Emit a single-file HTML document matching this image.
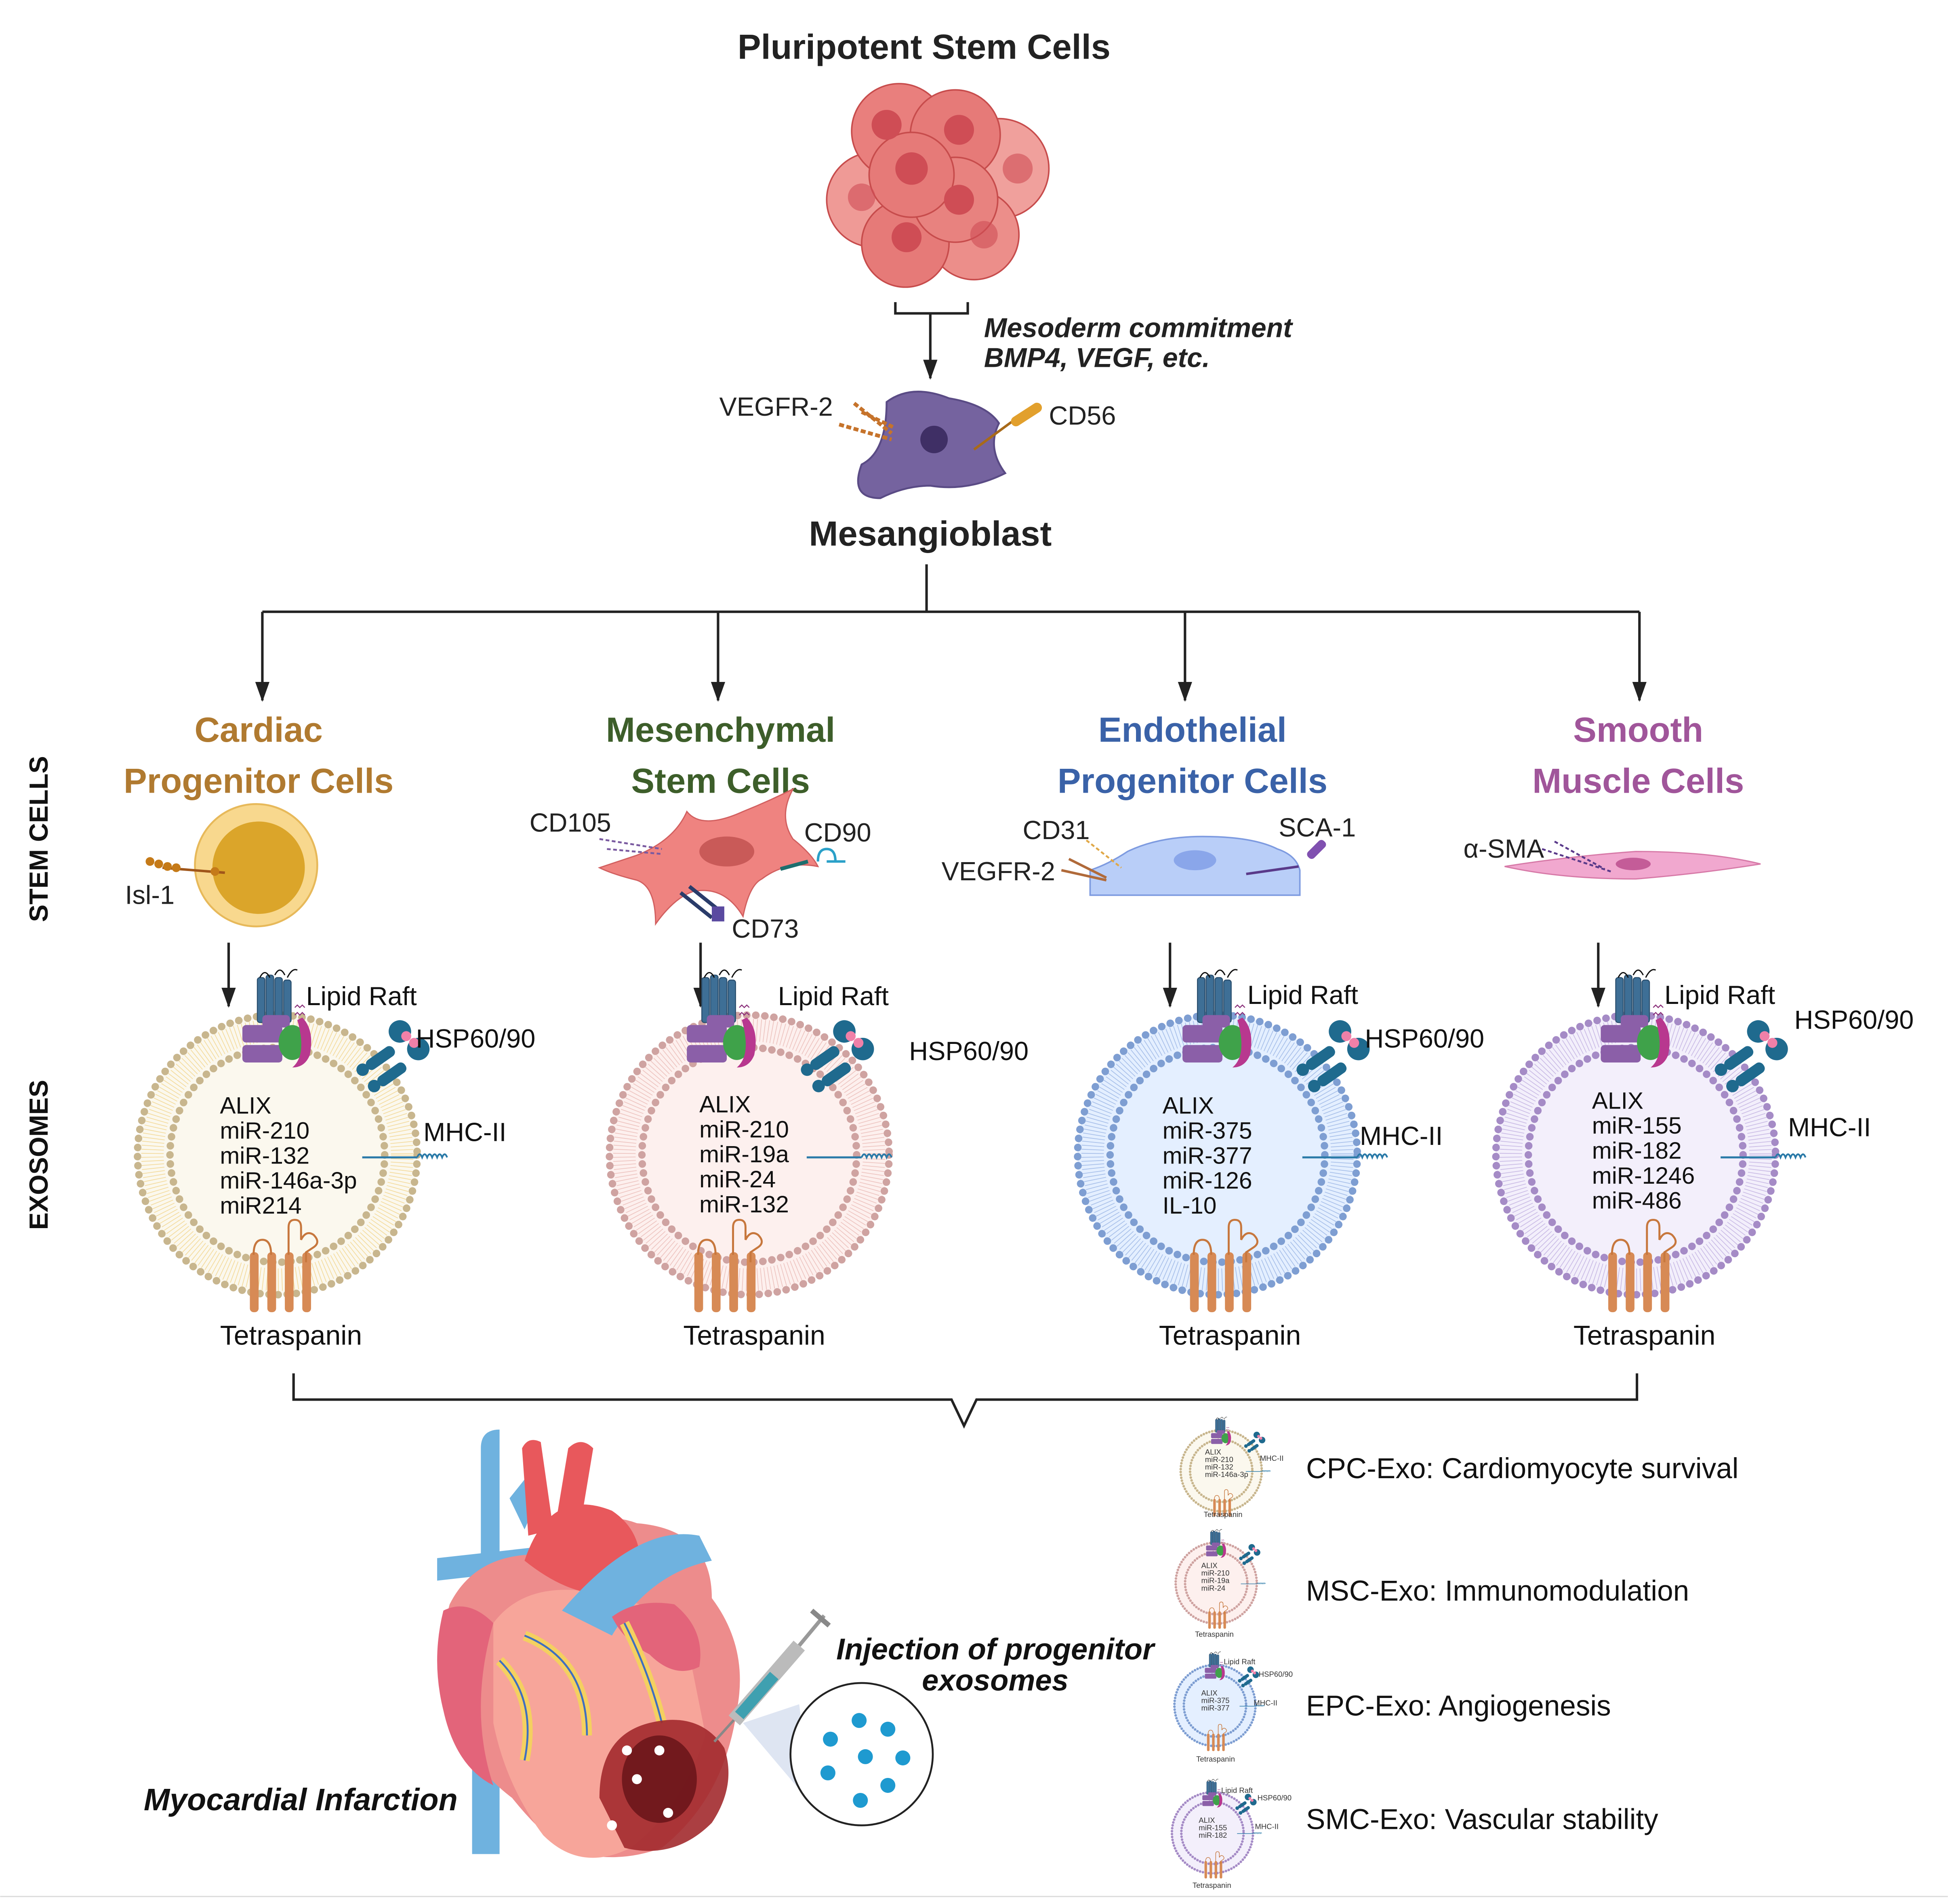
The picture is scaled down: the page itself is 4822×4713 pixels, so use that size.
<!DOCTYPE html>
<html><head><meta charset="utf-8"><style>
html,body{margin:0;padding:0;background:#fff;}
svg{display:block;}
text{font-family:"Liberation Sans",Arial,sans-serif;}
</style></head><body>
<svg width="4822" height="4713" viewBox="0 0 1560 1525" xmlns="http://www.w3.org/2000/svg">
<defs>
<marker id="ah" viewBox="0 0 14 10" refX="13" refY="5" markerWidth="16" markerHeight="12" orient="auto" markerUnits="userSpaceOnUse"><path d="M0,0 L14,5 L0,10 Z" fill="#222"/></marker>
<g id="prot">
  <g fill="#3e6f96" stroke="#2b4f6e" stroke-width="0.8">
    <rect x="-16" y="-142" width="6" height="36" rx="2"/>
    <rect x="-9" y="-144" width="6" height="40" rx="2"/>
    <rect x="-2" y="-142" width="6" height="38" rx="2"/>
    <rect x="5" y="-140" width="6" height="34" rx="2"/>
  </g>
  <path d="M-14,-142 q4,-8 8,0 M-2,-144 q4,-8 8,0 M8,-142 q4,-8 8,-6" stroke="#111" fill="none" stroke-width="1"/>
  <path d="M14,-118 l2,-2 l2,2 l2,-2 l2,2 M14,-112 l2,-2 l2,2 l2,-2 l2,2" stroke="#8a2f7a" fill="none" stroke-width="0.8"/>
  <rect x="-28" y="-104" width="32" height="14" rx="3" fill="#8b5fa8"/>
  <rect x="-28" y="-88" width="32" height="14" rx="3" fill="#8b5fa8"/>
  <rect x="-12" y="-112" width="22" height="10" rx="3" fill="#8b5fa8"/>
  <ellipse cx="12" cy="-90" rx="11" ry="14" fill="#3fa24a"/>
  <path d="M20,-110 q10,10 6,30 q-4,10 -14,10 q12,-10 4,-38 z" fill="#b8388f"/>
  <g transform="translate(88,-82) rotate(-35)">
    <rect x="-20" y="-4" width="26" height="9" rx="4" fill="#1f6a8e"/>
    <rect x="-20" y="12" width="26" height="9" rx="4" fill="#1f6a8e"/>
    <circle cx="-24" cy="0" r="5" fill="#1f6a8e"/><circle cx="-24" cy="16" r="5" fill="#1f6a8e"/>
    <circle cx="18" cy="-8" r="9" fill="#1f6a8e"/><circle cx="22" cy="12" r="9" fill="#1f6a8e"/>
    <circle cx="20" cy="-2" r="4" fill="#f080a8"/><circle cx="22" cy="6" r="4" fill="#f080a8"/>
  </g>
  <path d="M68,2 L112,2" stroke="#2a7aa8" stroke-width="1.6"/>
  <path d="M112,2 q2,-5 4,0 q2,-5 4,0 q2,-5 4,0 q2,-5 4,0 q2,-5 4,0 q2,-5 4,0" stroke="#2a7aa8" fill="none" stroke-width="1.4"/>
  <g fill="#d78a55">
    <rect x="-22" y="78" width="7" height="48" rx="3"/>
    <rect x="-8" y="78" width="7" height="48" rx="3"/>
    <rect x="6" y="78" width="7" height="48" rx="3"/>
    <rect x="20" y="78" width="7" height="48" rx="3"/>
  </g>
  <path d="M-19,80 q0,-12 7,-12 q7,0 7,12 M9,80 l0,-22 q0,-6 5,-6 q5,0 5,6 l0,10 q4,-8 10,-4 q6,6 0,10 l-6,4 l0,8" stroke="#c7773d" fill="none" stroke-width="1.6"/>
</g>
</defs>
<rect width="1560" height="1525" fill="#fff"/>

<text x="740" y="47" font-size="28" font-weight="bold" text-anchor="middle" fill="#222">Pluripotent Stem Cells</text>
<g stroke="#c74c4c" stroke-width="1.2">
  <circle cx="700" cy="160" r="38" fill="#ef9a96"/>
  <circle cx="800" cy="135" r="40" fill="#f0a09c"/>
  <circle cx="780" cy="188" r="36" fill="#ec8e8a"/>
  <circle cx="720" cy="105" r="38" fill="#e97f7d"/>
  <circle cx="765" cy="108" r="36" fill="#e67a78"/>
  <circle cx="725" cy="195" r="35" fill="#e67a78"/>
  <circle cx="765" cy="160" r="34" fill="#e8827f"/>
  <circle cx="730" cy="140" r="34" fill="#e67a78"/>
</g>
<g fill="#cf4d55">
  <circle cx="710" cy="100" r="12"/><circle cx="768" cy="104" r="12"/><circle cx="730" cy="135" r="13"/>
  <circle cx="768" cy="160" r="12"/><circle cx="726" cy="190" r="12"/><circle cx="690" cy="158" r="11" opacity="0.6"/>
  <circle cx="815" cy="135" r="12" opacity="0.6"/><circle cx="788" cy="188" r="11" opacity="0.6"/>
</g>

<path d="M717,242 L717,251 L775,251 L775,242" stroke="#222" stroke-width="2" fill="none"/>
<path d="M745,251 L745,303" stroke="#222" stroke-width="2" fill="none" marker-end="url(#ah)"/>
<text x="788" y="270" font-size="22" font-weight="bold" font-style="italic" fill="#222">Mesoderm commitment</text>
<text x="788" y="294" font-size="22" font-weight="bold" font-style="italic" fill="#222">BMP4, VEGF, etc.</text>

<path d="M690,372 q20,-10 20,-50 q20,-15 50,-3 q30,5 40,20 q-10,20 5,40 q-30,15 -60,10 q-20,0 -40,10 q-25,0 -15,-27 z" fill="#75639f" stroke="#5a4b85" stroke-width="1.5"/>
<circle cx="748" cy="352" r="11" fill="#3f2f65"/>
<path d="M672,340 l42,12 M684,323 l30,24 M690,330 l25,12" stroke="#c6732b" stroke-width="3" stroke-dasharray="4 2"/>
<path d="M780,360 l30,-22" stroke="#a86a1a" stroke-width="2"/>
<rect x="808" y="328" width="28" height="8" rx="4" fill="#e2a02d" transform="rotate(-33 822 332)"/>
<text x="576" y="333" font-size="21" fill="#222">VEGFR-2</text>
<text x="840" y="340" font-size="21" fill="#222">CD56</text>
<text x="745" y="437" font-size="28" font-weight="bold" text-anchor="middle" fill="#222">Mesangioblast</text>

<path d="M742,452 L742,490 M210,490 L1313,490" stroke="#222" stroke-width="2" fill="none"/>
<path d="M210,490 L210,561" stroke="#222" stroke-width="2" marker-end="url(#ah)"/>
<path d="M575,490 L575,561" stroke="#222" stroke-width="2" marker-end="url(#ah)"/>
<path d="M949,490 L949,561" stroke="#222" stroke-width="2" marker-end="url(#ah)"/>
<path d="M1313,490 L1313,561" stroke="#222" stroke-width="2" marker-end="url(#ah)"/>

<g font-size="28" font-weight="bold" text-anchor="middle">
<text x="207" y="594" fill="#b07a30">Cardiac</text><text x="207" y="635" fill="#b07a30">Progenitor Cells</text>
<text x="577" y="594" fill="#3d5e2a">Mesenchymal</text><text x="577" y="635" fill="#3d5e2a">Stem Cells</text>
<text x="955" y="594" fill="#3a62a8">Endothelial</text><text x="955" y="635" fill="#3a62a8">Progenitor Cells</text>
<text x="1312" y="594" fill="#a0559a">Smooth</text><text x="1312" y="635" fill="#a0559a">Muscle Cells</text>
</g>
<text transform="translate(38,672) rotate(-90)" font-size="21" font-weight="bold" text-anchor="middle" fill="#111">STEM CELLS</text>
<text transform="translate(38,925) rotate(-90)" font-size="21" font-weight="bold" text-anchor="middle" fill="#111">EXOSOMES</text>

<circle cx="205" cy="693" r="49" fill="#f8d88e" stroke="#e7b95a" stroke-width="1.5"/>
<circle cx="207" cy="695" r="37" fill="#dba52a"/>
<path d="M130,695 l50,4" stroke="#a0561a" stroke-width="2"/>
<g fill="#c57a18"><circle cx="120" cy="690" r="3.5"/><circle cx="127" cy="692" r="3.5"/><circle cx="134" cy="694" r="3.5"/><circle cx="141" cy="695" r="3.5"/><circle cx="172" cy="698" r="3.5"/></g>
<text x="100" y="724" font-size="21" fill="#222">Isl-1</text>

<path d="M510,685 q30,-12 40,-35 q12,15 45,0 q20,-8 40,-18 q-12,22 0,40 q15,12 20,22 q-25,-5 -45,10 q-10,5 -15,30 q-15,-25 -40,-20 q-15,5 -30,26 q0,-30 -15,-35 q-20,-5 -30,-10 z" fill="#ef8380" stroke="#d26060" stroke-width="1"/>
<ellipse cx="582" cy="682" rx="22" ry="12" fill="#c95a58"/>
<path d="M480,672 l50,8 M486,680 l44,4" stroke="#7a5aa0" stroke-width="1.5" stroke-dasharray="3 2"/>
<path d="M625,696 l22,-6" stroke="#1d6e6e" stroke-width="3"/>
<path d="M655,690 q0,-10 7,-10 q7,0 7,10 m-7,0 h15" stroke="#2aa0c8" stroke-width="2" fill="none"/>
<path d="M552,710 l25,20 M545,715 l25,20" stroke="#2a3c6a" stroke-width="3"/>
<rect x="570" y="726" width="10" height="12" fill="#5a4aa0"/>
<text x="424" y="666" font-size="21" fill="#222">CD105</text>
<text x="644" y="674" font-size="21" fill="#222">CD90</text>
<text x="586" y="751" font-size="21" fill="#222">CD73</text>

<path d="M873,697 q15,-5 30,-15 q25,-12 60,-12 q40,0 60,10 q15,5 18,17 l0,20 l-168,0 z" fill="#b9cef8" stroke="#7e9be0" stroke-width="1.2"/>
<ellipse cx="957" cy="689" rx="17" ry="8" fill="#8aa6ea"/>
<path d="M870,673 l28,22" stroke="#e0a848" stroke-width="1.5" stroke-dasharray="3 2"/>
<path d="M850,697 l36,8 M856,688 l30,15" stroke="#b06a3a" stroke-width="2"/>
<path d="M998,700 l42,-6" stroke="#5a3a8a" stroke-width="2"/>
<rect x="1045" y="677" width="18" height="7" rx="3" fill="#8050b0" transform="rotate(-45 1054 680)"/>
<text x="819" y="672" font-size="21" fill="#222">CD31</text>
<text x="754" y="705" font-size="21" fill="#222">VEGFR-2</text>
<text x="1024" y="670" font-size="21" fill="#222">SCA-1</text>

<path d="M1205,694 q50,-8 105,-12 q60,0 100,10 q-50,8 -100,12 q-60,0 -105,-10 z" fill="#f1a8cf" stroke="#d77aa8" stroke-width="1"/>
<ellipse cx="1308" cy="692" rx="14" ry="5" fill="#c45c98"/>
<path d="M1235,680 l55,18 M1245,674 l40,22" stroke="#5a3a8a" stroke-width="1.5" stroke-dasharray="3 2"/>
<text x="1172" y="687" font-size="21" fill="#222">α-SMA</text>

<path d="M183,755 L183,806" stroke="#222" stroke-width="2" marker-end="url(#ah)"/>
<path d="M561,755 L561,806" stroke="#222" stroke-width="2" marker-end="url(#ah)"/>
<path d="M937,755 L937,806" stroke="#222" stroke-width="2" marker-end="url(#ah)"/>
<path d="M1280,755 L1280,806" stroke="#222" stroke-width="2" marker-end="url(#ah)"/>

<g transform="translate(222,925)">
  <circle r="112" fill="#fbf8ee"/>
  <circle r="100" fill="none" stroke="#f4dca0" stroke-width="18" stroke-dasharray="0.6 2.4"/>
  <circle r="112" fill="none" stroke="#c8b68e" stroke-width="6" stroke-dasharray="0.1 7.2" stroke-linecap="round"/>
  <circle r="86" fill="none" stroke="#c8b68e" stroke-width="6" stroke-dasharray="0.1 7.2" stroke-linecap="round"/>
  <use href="#prot"/>
</g>
<g transform="translate(600,925)">
  <circle r="112" fill="#fdf0ee"/>
  <circle r="100" fill="none" stroke="#eec6c2" stroke-width="18" stroke-dasharray="0.6 2.4"/>
  <circle r="112" fill="none" stroke="#cfa3a1" stroke-width="6" stroke-dasharray="0.1 7.2" stroke-linecap="round"/>
  <circle r="86" fill="none" stroke="#cfa3a1" stroke-width="6" stroke-dasharray="0.1 7.2" stroke-linecap="round"/>
  <use href="#prot" transform="translate(-22,0)"/>
</g>
<g transform="translate(975,925)">
  <circle r="112" fill="#e4efff"/>
  <circle r="100" fill="none" stroke="#a9c1ea" stroke-width="18" stroke-dasharray="0.6 2.4"/>
  <circle r="112" fill="none" stroke="#7e9ed2" stroke-width="6" stroke-dasharray="0.1 7.2" stroke-linecap="round"/>
  <circle r="86" fill="none" stroke="#7e9ed2" stroke-width="6" stroke-dasharray="0.1 7.2" stroke-linecap="round"/>
  <use href="#prot"/>
</g>
<g transform="translate(1310,925)">
  <circle r="112" fill="#f3effb"/>
  <circle r="100" fill="none" stroke="#cbbde6" stroke-width="18" stroke-dasharray="0.6 2.4"/>
  <circle r="112" fill="none" stroke="#a58bc6" stroke-width="6" stroke-dasharray="0.1 7.2" stroke-linecap="round"/>
  <circle r="86" fill="none" stroke="#a58bc6" stroke-width="6" stroke-dasharray="0.1 7.2" stroke-linecap="round"/>
  <use href="#prot"/>
</g>

<g font-size="19" fill="#111">
<text x="176" y="892">ALIX</text><text x="176" y="912">miR-210</text><text x="176" y="932">miR-132</text><text x="176" y="952">miR-146a-3p</text><text x="176" y="972">miR214</text>
<text x="560" y="891">ALIX</text><text x="560" y="911">miR-210</text><text x="560" y="931">miR-19a</text><text x="560" y="951">miR-24</text><text x="560" y="971">miR-132</text>
<text x="931" y="892">ALIX</text><text x="931" y="912">miR-375</text><text x="931" y="932">miR-377</text><text x="931" y="952">miR-126</text><text x="931" y="972">IL-10</text>
<text x="1275" y="888">ALIX</text><text x="1275" y="908">miR-155</text><text x="1275" y="928">miR-182</text><text x="1275" y="948">miR-1246</text><text x="1275" y="968">miR-486</text>
</g>
<g font-size="21" fill="#111">
<text x="245" y="805">Lipid Raft</text><text x="623" y="805">Lipid Raft</text><text x="999" y="804">Lipid Raft</text><text x="1333" y="804">Lipid Raft</text>
<text x="333" y="839">HSP60/90</text><text x="728" y="849">HSP60/90</text><text x="1093" y="839">HSP60/90</text><text x="1437" y="824">HSP60/90</text>
<text x="339" y="914">MHC-II</text><text x="1089" y="917">MHC-II</text><text x="1432" y="910">MHC-II</text>
</g>
<g font-size="22" fill="#111" text-anchor="middle">
<text x="233" y="1077">Tetraspanin</text><text x="604" y="1077">Tetraspanin</text><text x="985" y="1077">Tetraspanin</text><text x="1317" y="1077">Tetraspanin</text>
</g>

<path d="M235,1100 L235,1121 L762,1121 L772,1142 L782,1121 L1311,1121 L1311,1100" stroke="#222" stroke-width="2" fill="none"/>

<g>
  <path d="M378,1250 L378,1485 L400,1485 L400,1250 Z" fill="#6fb2df"/>
  <path d="M385,1160 q0,-15 15,-15 l0,110 l-15,0 z" fill="#6fb2df"/>
  <path d="M350,1248 l90,-10 l0,18 l-90,10 z" fill="#6fb2df"/>
  <path d="M408,1200 l12,-15 q10,20 0,40 z" fill="#6fb2df"/>
  <path d="M418,1160 q5,-10 15,-5 l10,70 l-20,5 z" fill="#e8585c"/>
  <path d="M455,1160 q10,-10 20,0 l-10,60 l-20,0 z" fill="#e8585c"/>
  <path d="M360,1285 q20,-40 70,-40 q40,-40 80,-25 q60,5 60,60 q30,40 20,90 q-10,70 -60,110 q-40,15 -80,0 q-20,-15 -40,-40 q-40,-30 -50,-80 q-10,-40 0,-75 z" fill="#ed8c8c"/>
  <path d="M355,1290 q-10,40 0,80 q10,45 40,60 q-20,-60 0,-130 q-20,-20 -40,-10 z" fill="#e3647a"/>
  <path d="M395,1300 q30,-40 100,-20 q50,10 60,60 l10,50 q-20,60 -60,90 q-40,20 -70,-10 q-30,-40 -40,-90 z" fill="#f7a59a"/>
  <path d="M420,1250 q20,-60 70,-40 q30,20 20,60 q-40,20 -90,-20 z" fill="#e8585c"/>
  <path d="M450,1290 q60,-70 110,-60 l10,20 q-50,10 -80,60 z" fill="#6fb2df"/>
  <path d="M490,1295 q20,-15 50,-10 q25,20 20,50 q-20,10 -40,-10 q-20,-10 -30,-30 z" fill="#e3647a"/>
  <path d="M400,1330 q30,30 20,80 M420,1310 q50,20 50,80 M500,1300 q20,40 30,80" stroke="#f4d060" stroke-width="8" fill="none"/>
  <path d="M400,1330 q30,30 20,80 M420,1310 q50,20 50,80 M500,1300 q20,40 30,80" stroke="#3f6fc0" stroke-width="1.5" fill="none"/>
  <path d="M480,1440 q0,-50 40,-60 q40,-10 60,20 q10,30 -10,60 q-30,30 -70,20 z" fill="#a22a2e" opacity="0.9"/>
  <ellipse cx="528" cy="1425" rx="30" ry="35" fill="#5a0d12" opacity="0.7"/>
  <g fill="#fff"><circle cx="502" cy="1402" r="4"/><circle cx="528" cy="1402" r="4"/><circle cx="510" cy="1425" r="4"/><circle cx="535" cy="1452" r="4"/><circle cx="490" cy="1462" r="4"/></g>
</g>
<text x="115" y="1450" font-size="25" font-weight="bold" font-style="italic" fill="#111">Myocardial Infarction</text>
<path d="M572,1395 L590,1375" stroke="#888" stroke-width="2"/>
<path d="M588,1378 L640,1318" stroke="#bbb" stroke-width="12"/>
<path d="M592,1374 L620,1342" stroke="#3fa0b0" stroke-width="9"/>
<path d="M640,1318 L660,1294" stroke="#999" stroke-width="3"/>
<path d="M650,1290 l14,12" stroke="#888" stroke-width="4"/>
<path d="M595,1380 L640,1365 L650,1445 Z" fill="#c8d4ea" opacity="0.6"/>
<circle cx="690" cy="1405" r="57" fill="#fff" stroke="#222" stroke-width="1.5"/>
<g fill="#1e9ad0"><circle cx="665" cy="1393" r="6"/><circle cx="688" cy="1378" r="6"/><circle cx="711" cy="1385" r="6"/><circle cx="693" cy="1407" r="6"/><circle cx="663" cy="1420" r="6"/><circle cx="723" cy="1408" r="6"/><circle cx="711" cy="1430" r="6"/><circle cx="689" cy="1442" r="6"/></g>
<text x="797" y="1329" font-size="24" font-weight="bold" font-style="italic" text-anchor="middle" fill="#111">Injection of progenitor</text>
<text x="797" y="1354" font-size="24" font-weight="bold" font-style="italic" text-anchor="middle" fill="#111">exosomes</text>

<g transform="translate(978,1178) scale(0.29)">
  <circle r="112" fill="#fbf8ee"/><circle r="112" fill="none" stroke="#c8b68e" stroke-width="7" stroke-dasharray="0.1 8" stroke-linecap="round"/><circle r="86" fill="none" stroke="#c8b68e" stroke-width="7" stroke-dasharray="0.1 8" stroke-linecap="round"/><use href="#prot"/>
</g>
<g transform="translate(974,1268) scale(0.29)">
  <circle r="112" fill="#fdf0ee"/><circle r="112" fill="none" stroke="#cfa3a1" stroke-width="7" stroke-dasharray="0.1 8" stroke-linecap="round"/><circle r="86" fill="none" stroke="#cfa3a1" stroke-width="7" stroke-dasharray="0.1 8" stroke-linecap="round"/><use href="#prot"/>
</g>
<g transform="translate(973,1366) scale(0.29)">
  <circle r="112" fill="#e4efff"/><circle r="112" fill="none" stroke="#7e9ed2" stroke-width="7" stroke-dasharray="0.1 8" stroke-linecap="round"/><circle r="86" fill="none" stroke="#7e9ed2" stroke-width="7" stroke-dasharray="0.1 8" stroke-linecap="round"/><use href="#prot"/>
</g>
<g transform="translate(971,1468) scale(0.29)">
  <circle r="112" fill="#f3effb"/><circle r="112" fill="none" stroke="#a58bc6" stroke-width="7" stroke-dasharray="0.1 8" stroke-linecap="round"/><circle r="86" fill="none" stroke="#a58bc6" stroke-width="7" stroke-dasharray="0.1 8" stroke-linecap="round"/><use href="#prot"/>
</g>
<g font-size="6" fill="#333">
<text x="965" y="1165">ALIX</text><text x="965" y="1171">miR-210</text><text x="965" y="1177">miR-132</text><text x="965" y="1183">miR-146a-3p</text><text x="1009" y="1170">MHC-II</text><text x="964" y="1215">Tetraspanin</text>
<text x="962" y="1256">ALIX</text><text x="962" y="1262">miR-210</text><text x="962" y="1268">miR-19a</text><text x="962" y="1274">miR-24</text><text x="957" y="1311">Tetraspanin</text>
<text x="962" y="1358">ALIX</text><text x="962" y="1364">miR-375</text><text x="962" y="1370">miR-377</text><text x="980" y="1333">Lipid Raft</text><text x="1008" y="1343">HSP60/90</text><text x="1004" y="1366">MHC-II</text><text x="958" y="1411">Tetraspanin</text>
<text x="960" y="1460">ALIX</text><text x="960" y="1466">miR-155</text><text x="960" y="1472">miR-182</text><text x="978" y="1436">Lipid Raft</text><text x="1007" y="1442">HSP60/90</text><text x="1005" y="1465">MHC-II</text><text x="955" y="1512">Tetraspanin</text>
</g>
<g font-size="23" fill="#111">
<text x="1046" y="1184">CPC-Exo: Cardiomyocyte survival</text>
<text x="1046" y="1282">MSC-Exo:  Immunomodulation</text>
<text x="1046" y="1374">EPC-Exo:  Angiogenesis</text>
<text x="1046" y="1465">SMC-Exo:  Vascular stability</text>
</g>
<line x1="0" y1="1519" x2="1560" y2="1519" stroke="#ddd" stroke-width="1"/>
</svg>
</body></html>
